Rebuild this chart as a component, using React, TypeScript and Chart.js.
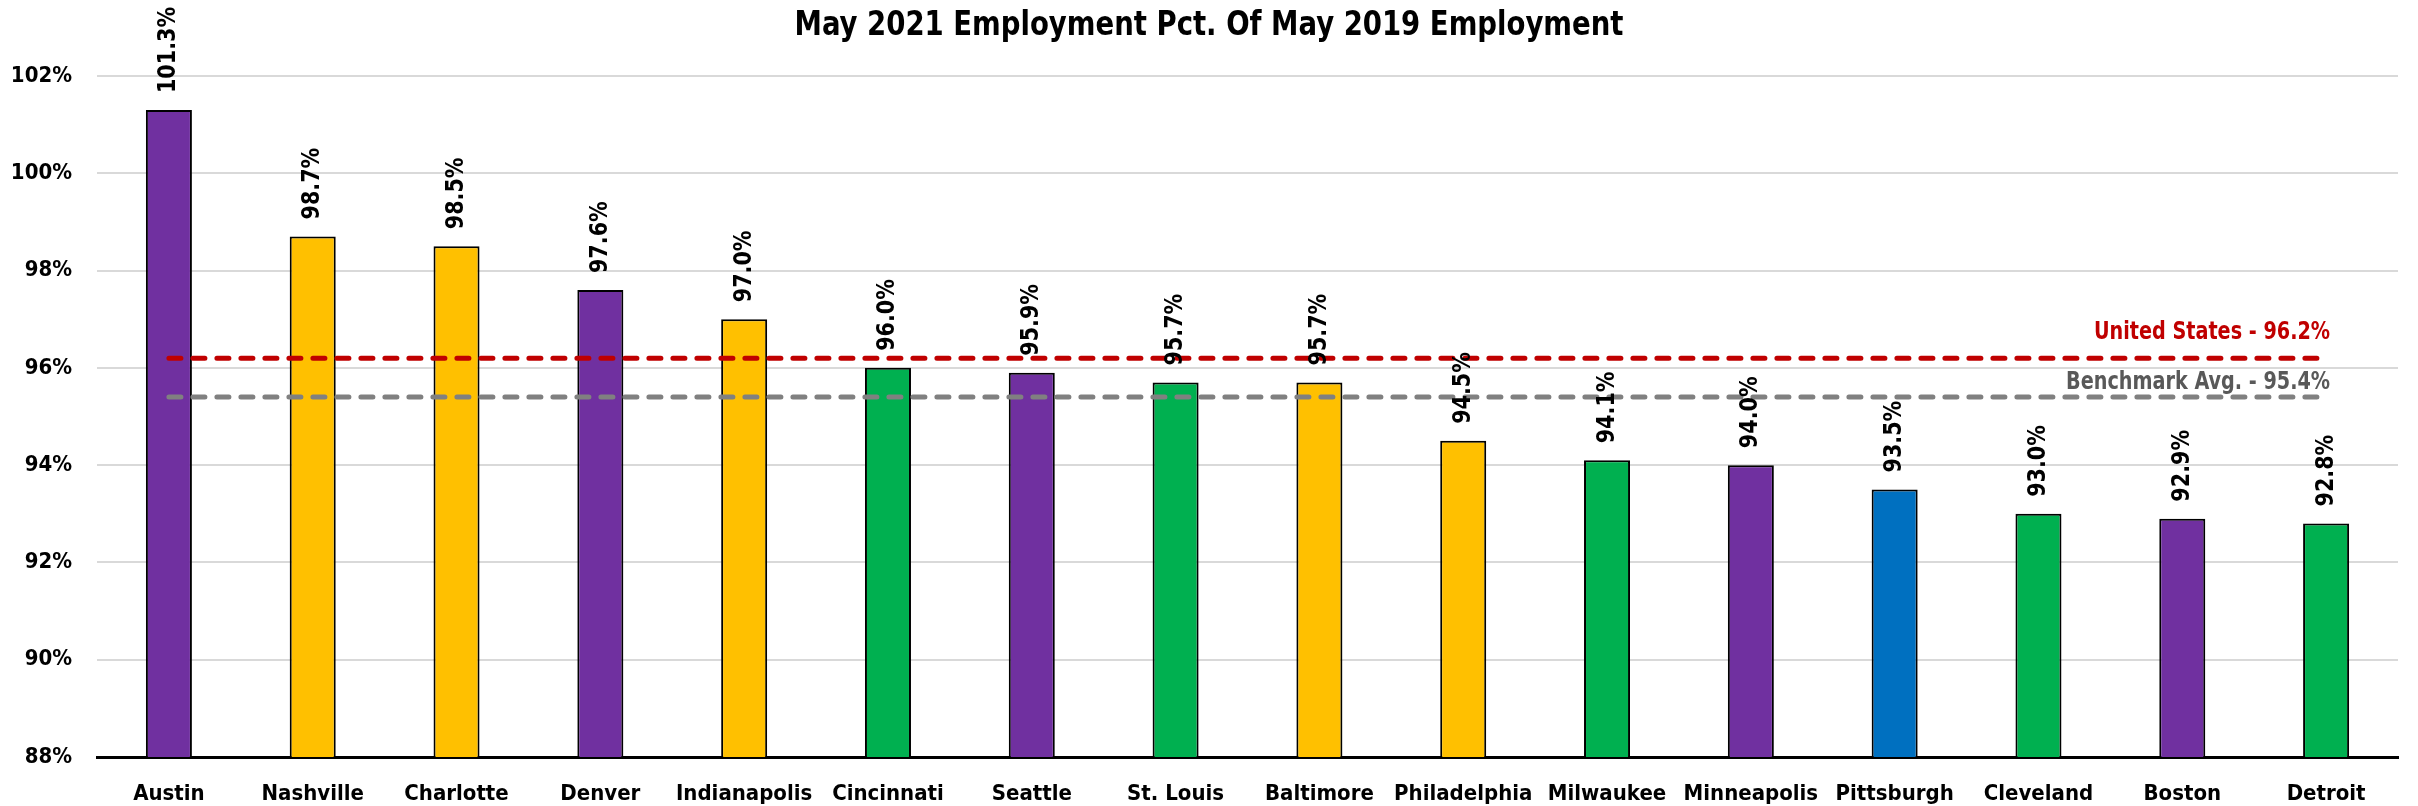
import React, { useEffect, useRef } from "react";
import { Chart, registerables } from "chart.js";

Chart.register(...registerables);

const title = "May 2021 Employment Pct. Of May 2019 Employment";
const categories = [
  "Austin", "Nashville", "Charlotte", "Denver", "Indianapolis", "Cincinnati",
  "Seattle", "St. Louis", "Baltimore", "Philadelphia", "Milwaukee", "Minneapolis",
  "Pittsburgh", "Cleveland", "Boston", "Detroit",
];
const values = [101.3, 98.7, 98.5, 97.6, 97.0, 96.0, 95.9, 95.7, 95.7, 94.5, 94.1, 94.0, 93.5, 93.0, 92.9, 92.8];
const barColors = [
  "#7030A0", "#FFC000", "#FFC000", "#7030A0", "#FFC000", "#00B050",
  "#7030A0", "#00B050", "#FFC000", "#FFC000", "#00B050", "#7030A0",
  "#0070C0", "#00B050", "#7030A0", "#00B050",
];
const usAverage = 96.2;
const benchmarkAverage = 95.4;
const usLabel = "United States - 96.2%";
const benchmarkLabel = "Benchmark Avg. - 95.4%";
const yMin = 88;
const yMax = 102;
const yStep = 2;

const FONT = '"DejaVu Sans Condensed", "Liberation Sans", sans-serif';

function drawScaledText(ctx: any, text: string, x: number, y: number, sx: number, align: string) {
  ctx.save();
  ctx.translate(x, y);
  ctx.scale(sx, 1);
  ctx.textAlign = align;
  ctx.fillText(text, 0, 0);
  ctx.restore();
}

const labelPlugin = {
  id: "customLabels",
  afterDatasetsDraw(chart: any) {
    const ctx = chart.ctx;
    const meta = chart.getDatasetMeta(0);
    ctx.save();
    ctx.fillStyle = "#000";
    ctx.font = `bold 25px ${FONT}`;
    ctx.textBaseline = "middle";
    meta.data.forEach((el: any, i: number) => {
      ctx.save();
      ctx.translate(el.x, el.y - 17);
      ctx.rotate(-Math.PI / 2);
      drawScaledText(ctx, values[i].toFixed(1) + "%", 0, 0, 0.92, "left");
      ctx.restore();
    });
    const xs = chart.scales.x;
    const ys = chart.scales.y;
    const rightX = xs.getPixelForValue(categories.length - 1) + 4;
    ctx.font = `bold 24px ${FONT}`;
    ctx.fillStyle = "#C00000";
    drawScaledText(ctx, usLabel, rightX, ys.getPixelForValue(usAverage) - 25, 0.89, "right");
    ctx.fillStyle = "#595959";
    drawScaledText(ctx, benchmarkLabel, rightX, ys.getPixelForValue(benchmarkAverage) - 14, 0.89, "right");
    ctx.restore();
  },
  afterDraw(chart: any) {
    const ctx = chart.ctx;
    ctx.save();
    ctx.fillStyle = "#000";
    ctx.font = `bold 34px ${FONT}`;
    ctx.textBaseline = "middle";
    drawScaledText(ctx, title, chart.width / 2, 26, 0.9, "center");
    ctx.restore();
  },
};

export default function App() {
  const ref = useRef<HTMLCanvasElement>(null);
  useEffect(() => {
    document.body.style.margin = "0";
    const canvas = ref.current!;
    const first = categories[0];
    const last = categories[categories.length - 1];
    const chart = new Chart(canvas, {
      type: "bar",
      data: {
        labels: categories,
        datasets: [
          {
            type: "bar",
            data: values,
            backgroundColor: barColors,
            borderColor: "#000",
            borderWidth: 2,
            borderSkipped: "bottom",
            barPercentage: 0.32,
            categoryPercentage: 1,
            order: 2,
          } as any,
          {
            type: "line",
            data: [{ x: first, y: usAverage }, { x: last, y: usAverage }],
            borderColor: "#C00000",
            borderWidth: 5,
            borderDash: [12, 12],
            borderCapStyle: "round",
            pointRadius: 0,
            fill: false,
            order: 1,
          } as any,
          {
            type: "line",
            data: [{ x: first, y: benchmarkAverage }, { x: last, y: benchmarkAverage }],
            borderColor: "#808080",
            borderWidth: 5,
            borderDash: [12, 12],
            borderCapStyle: "round",
            pointRadius: 0,
            fill: false,
            order: 1,
          } as any,
        ],
      },
      options: {
        responsive: false,
        animation: false,
        devicePixelRatio: 1,
        layout: { padding: { top: 76, right: 20, left: 0, bottom: 0 } },
        plugins: {
          legend: { display: false },
          tooltip: { enabled: false },
          title: { display: false },
        },
        scales: {
          x: {
            grid: { display: false, drawTicks: false },
            border: { display: true, color: "#000", width: 3 },
            ticks: {
              color: "#000",
              font: { family: FONT, size: 22, weight: "bold" },
              padding: 24,
              maxRotation: 0,
              autoSkip: false,
            },
            afterFit(axis: any) {
              axis.height = 49;
            },
          },
          y: {
            min: yMin,
            max: yMax,
            grid: { color: "#D9D9D9", lineWidth: 2, drawTicks: false },
            border: { display: false },
            ticks: {
              stepSize: yStep,
              color: "#000",
              font: { family: FONT, size: 22, weight: "bold" },
              padding: 25,
              callback: (v: any) => `${v}%`,
            },
            afterFit(axis: any) {
              axis.width = 97;
            },
          },
        },
      },
      plugins: [labelPlugin],
    });
    return () => chart.destroy();
  }, []);
  return (
    <div style={{ width: 2418, height: 806 }}>
      <canvas ref={ref} width={2418} height={806} style={{ display: "block" }} />
    </div>
  );
}
